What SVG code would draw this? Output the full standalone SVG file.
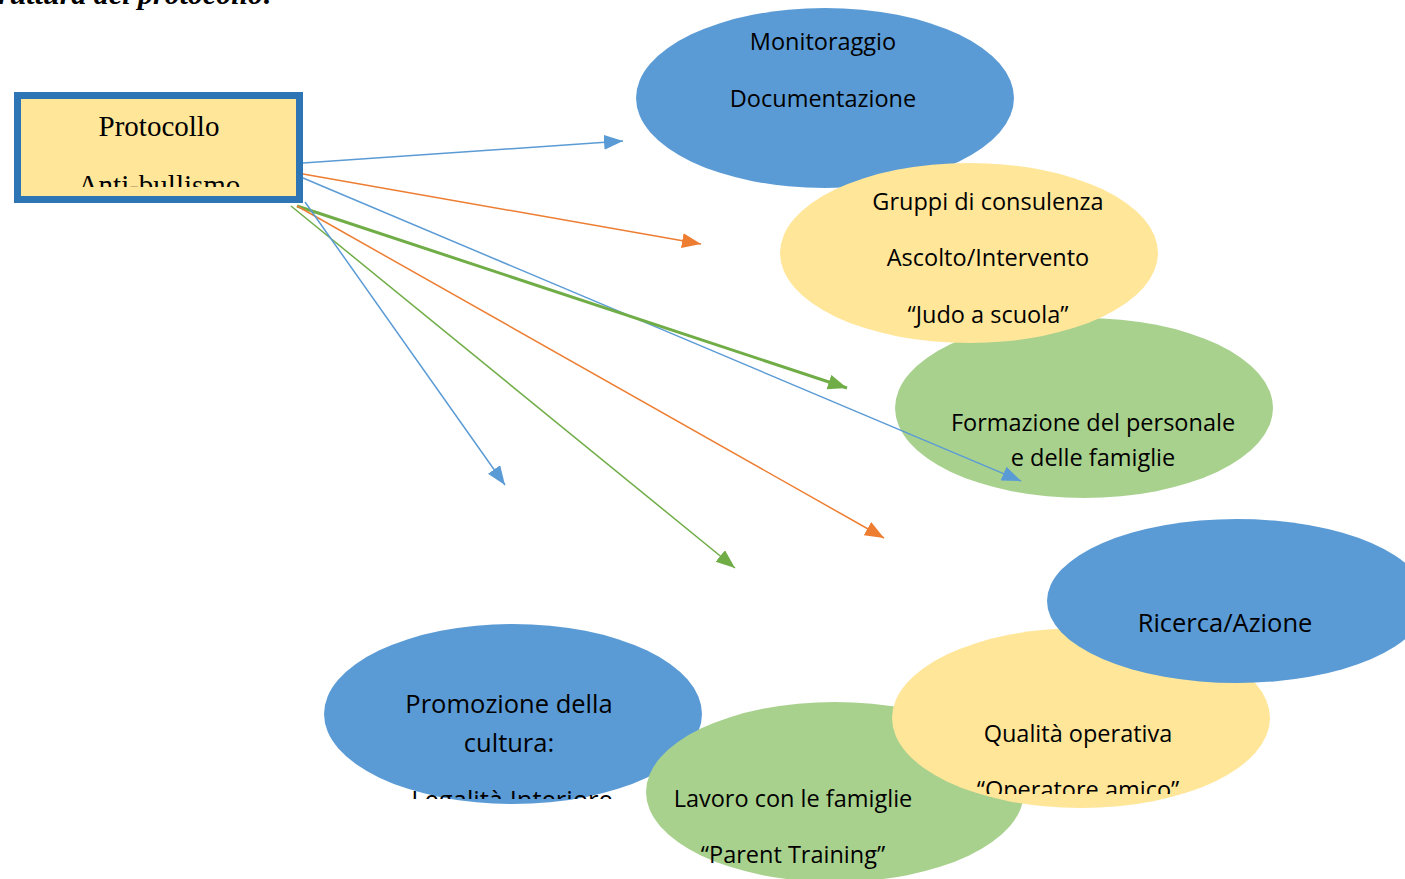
<svg xmlns="http://www.w3.org/2000/svg" width="1405" height="879" viewBox="0 0 1405 879">
<style>
.t{font-family:"Open Sans","Noto Sans",sans-serif;font-size:23.5px;fill:#000;text-anchor:middle}
.tl{font-size:25.5px}
.blue{fill:#5B9BD5}
.yel{fill:#FFE699}
.grn{fill:#A9D18E}
.lb{stroke:#5B9BD5;stroke-width:1.5;fill:none;marker-end:url(#ab)}
.lo{stroke:#ED7D31;stroke-width:1.5;fill:none;marker-end:url(#ao)}
.lg{stroke:#70AD47;stroke-width:1.5;fill:none;marker-end:url(#ag)}
</style>
<defs>
<marker id="ab" markerUnits="userSpaceOnUse" markerWidth="21" markerHeight="17" refX="19" refY="7.5" orient="auto"><path d="M0,0 L19,7.5 L0,15 z" fill="#5B9BD5"/></marker>
<marker id="ao" markerUnits="userSpaceOnUse" markerWidth="21" markerHeight="17" refX="19" refY="7.5" orient="auto"><path d="M0,0 L19,7.5 L0,15 z" fill="#ED7D31"/></marker>
<marker id="ag" markerUnits="userSpaceOnUse" markerWidth="21" markerHeight="17" refX="19" refY="7.5" orient="auto"><path d="M0,0 L19,7.5 L0,15 z" fill="#70AD47"/></marker>
<clipPath id="cbox"><rect x="0" y="0" width="1405" height="187"/></clipPath>
<clipPath id="cq"><rect x="0" y="0" width="1405" height="794"/></clipPath>
<clipPath id="cp"><rect x="0" y="0" width="1405" height="799"/></clipPath>
</defs>
<rect width="1405" height="879" fill="#fff"/>
<text x="273" y="4" font-family="Liberation Serif,serif" font-size="30" font-weight="bold" font-style="italic" text-anchor="end">Struttura del protocollo:</text>

<g id="n-monitoraggio">
<ellipse class="blue" cx="825" cy="98" rx="189" ry="90"/>
<text class="t" x="823" y="50">Monitoraggio</text>
<text class="t" x="823" y="107">Documentazione</text>
</g>
<g id="n-formazione">
<ellipse class="grn" cx="1084" cy="408" rx="189" ry="90"/>
<text class="t" x="1093" y="431">Formazione del personale</text>
<text class="t" x="1093" y="466">e delle famiglie</text>
</g>
<g id="n-gruppi">
<ellipse class="yel" cx="969" cy="253" rx="189" ry="90"/>
<text class="t" x="988" y="210">Gruppi di consulenza</text>
<text class="t" x="988" y="266">Ascolto/Intervento</text>
<text class="t" x="988" y="323">“Judo a scuola”</text>
</g>
<g id="n-promozione">
<ellipse class="blue" cx="513" cy="714" rx="189" ry="90"/>
<text class="t tl" x="509" y="713">Promozione della</text>
<text class="t tl" x="509" y="752">cultura:</text>
<text class="t tl" x="512" y="809" clip-path="url(#cp)">Legalità Interiore</text>
</g>
<g id="n-lavoro">
<ellipse class="grn" cx="835" cy="792" rx="189" ry="90"/>
<text class="t" x="793" y="807">Lavoro con le famiglie</text>
<text class="t" x="793" y="863">“Parent Training”</text>
</g>
<g id="n-qualita">
<ellipse class="yel" cx="1081" cy="718" rx="189" ry="90"/>
<text class="t" x="1078" y="742">Qualità operativa</text>
<text class="t" x="1078" y="798" clip-path="url(#cq)">“Operatore amico”</text>
</g>
<g id="n-ricerca">
<ellipse class="blue" cx="1237" cy="601" rx="190" ry="82"/>
<text class="t tl" x="1225" y="632">Ricerca/Azione</text>
</g>
<g id="n-protocollo">
<rect x="17.5" y="95.5" width="282" height="104" fill="#FFE699" stroke="#2E75B6" stroke-width="7"/>
<text x="159" y="136" font-family="Liberation Serif,serif" font-size="29" text-anchor="middle">Protocollo</text>
<text x="159" y="195" font-family="Liberation Serif,serif" font-size="29" text-anchor="middle" clip-path="url(#cbox)">Anti-bullismo</text>
</g>

<g id="connectors">
<line class="lb" x1="303" y1="163" x2="623" y2="141"/>
<line class="lo" x1="303" y1="174" x2="701" y2="244"/>
<line class="lb" x1="303" y1="178" x2="1021" y2="481"/>
<line class="lg" style="stroke-width:3" x1="297" y1="206" x2="847" y2="388"/>
<line class="lo" x1="297" y1="206" x2="884" y2="538"/>
<line class="lg" x1="291" y1="206" x2="735" y2="568"/>
<line class="lb" x1="305" y1="202" x2="505" y2="485"/>
</g>
</svg>
